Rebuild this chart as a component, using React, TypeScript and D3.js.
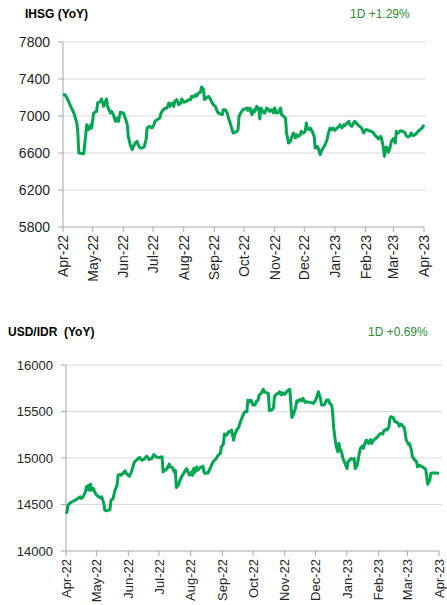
import * as d3 from "d3";

// days since 1 Apr 2022
const ihsgDays = [0, 2, 4, 7, 11, 14, 15, 16, 21, 23, 24, 26, 28, 29, 31, 34, 35, 38, 39, 41, 44, 45, 48, 49, 51, 53, 55, 56, 58, 61, 63, 65, 66, 68, 70, 71, 73, 75, 76, 78, 80, 82, 84, 85, 87, 90, 92, 93, 95, 98, 99, 102, 105, 107, 108, 110, 112, 113, 115, 117, 119, 120, 122, 125, 127, 129, 130, 132, 134, 135, 137, 139, 140, 142, 143, 145, 147, 149, 150, 152, 154, 156, 157, 161, 162, 164, 166, 167, 169, 171, 172, 176, 177, 178, 180, 182, 184, 186, 187, 189, 191, 193, 194, 196, 198, 199, 200, 203, 204, 206, 208, 209, 211, 213, 214, 216, 218, 220, 221, 223, 225, 226, 228, 230, 231, 233, 235, 236, 238, 240, 241, 243, 245, 246, 247, 249, 250, 252, 254, 255, 257, 258, 260, 262, 263, 265, 267, 268, 270, 272, 273, 275, 277, 279, 280, 282, 284, 285, 287, 289, 290, 292, 294, 295, 297, 299, 300, 302, 304, 306, 307, 309, 311, 312, 314, 316, 317, 319, 321, 322, 324, 325, 326, 327, 329, 331, 332, 334, 336, 337, 339, 341, 342, 344, 346, 347, 349, 351, 352, 354, 356, 357, 359, 361, 363, 364, 365];
const ihsgValues = [7231, 7231, 7195, 7122, 7032, 6924, 6816, 6600, 6593, 6798, 6906, 6852, 6906, 6870, 7032, 7050, 7140, 7159, 7184, 7104, 7184, 7104, 7032, 7050, 7014, 6942, 6978, 6942, 7040, 7032, 6978, 6906, 6780, 6690, 6636, 6665, 6708, 6726, 6690, 6654, 6654, 6665, 6744, 6870, 6888, 6870, 6906, 6942, 6960, 6978, 7032, 7076, 7086, 7140, 7104, 7140, 7104, 7159, 7177, 7122, 7140, 7184, 7148, 7159, 7177, 7177, 7213, 7205, 7231, 7213, 7249, 7256, 7314, 7292, 7177, 7195, 7213, 7184, 7159, 7122, 7104, 7050, 7032, 7014, 7068, 7068, 7032, 6989, 6924, 6852, 6816, 6834, 6852, 6996, 7040, 7068, 7076, 7086, 7061, 7086, 7014, 7068, 7050, 7104, 7068, 6968, 7086, 7032, 7032, 7086, 7068, 7050, 7068, 7032, 7086, 7032, 7040, 7086, 7014, 6996, 6978, 6816, 6708, 6726, 6762, 6816, 6762, 6798, 6780, 6798, 6834, 6816, 6834, 6924, 6870, 6852, 6870, 6834, 6780, 6654, 6672, 6654, 6582, 6636, 6654, 6690, 6744, 6798, 6870, 6852, 6870, 6845, 6870, 6888, 6906, 6870, 6906, 6895, 6924, 6942, 6906, 6888, 6931, 6942, 6917, 6895, 6888, 6870, 6816, 6852, 6852, 6845, 6834, 6834, 6816, 6780, 6780, 6751, 6780, 6762, 6654, 6564, 6643, 6665, 6607, 6672, 6726, 6755, 6708, 6834, 6816, 6841, 6834, 6834, 6816, 6787, 6773, 6787, 6816, 6787, 6798, 6809, 6834, 6852, 6870, 6888, 6906];

const usdDays = [0, 1, 2, 4, 7, 10, 14, 15, 17, 19, 20, 21, 22, 23, 24, 25, 27, 28, 30, 33, 35, 37, 38, 40, 43, 44, 46, 48, 50, 51, 53, 54, 56, 58, 59, 61, 62, 64, 66, 67, 69, 72, 74, 76, 79, 81, 84, 86, 88, 90, 92, 94, 95, 97, 99, 101, 102, 104, 106, 107, 108, 110, 111, 113, 115, 116, 118, 120, 121, 123, 124, 125, 126, 128, 129, 131, 133, 134, 135, 136, 137, 139, 141, 142, 144, 147, 149, 151, 152, 154, 155, 157, 159, 160, 162, 164, 165, 167, 169, 170, 172, 174, 175, 177, 178, 180, 181, 183, 185, 186, 188, 189, 191, 193, 194, 196, 198, 199, 201, 203, 204, 206, 208, 209, 211, 212, 214, 216, 218, 219, 221, 222, 224, 226, 227, 229, 231, 232, 234, 235, 239, 242, 244, 245, 247, 249, 250, 252, 253, 255, 257, 258, 260, 261, 262, 264, 265, 266, 267, 268, 270, 271, 273, 275, 276, 278, 279, 281, 282, 283, 285, 287, 288, 290, 291, 293, 294, 296, 298, 299, 301, 303, 305, 306, 308, 310, 311, 313, 314, 316, 317, 318, 320, 322, 323, 325, 326, 328, 330, 331, 333, 335, 336, 338, 339, 341, 343, 344, 346, 347, 349, 351, 352, 353, 354, 356, 357, 359, 362, 365];
const usdValues = [14402, 14420, 14492, 14517, 14535, 14553, 14582, 14564, 14589, 14636, 14690, 14661, 14708, 14654, 14719, 14654, 14672, 14636, 14600, 14575, 14582, 14510, 14438, 14431, 14445, 14546, 14564, 14654, 14708, 14815, 14826, 14815, 14840, 14862, 14833, 14815, 14804, 14851, 14923, 14959, 14977, 15006, 14977, 14984, 15020, 14984, 14995, 15038, 15013, 15006, 15006, 15013, 14851, 14869, 14887, 14934, 14905, 14898, 14851, 14869, 14682, 14708, 14744, 14797, 14833, 14851, 14887, 14833, 14815, 14851, 14815, 14887, 14844, 14905, 14869, 14894, 14905, 14912, 14851, 14833, 14840, 14840, 14887, 14912, 14959, 14995, 15031, 15049, 15121, 15149, 15257, 15246, 15282, 15280, 15300, 15192, 15246, 15300, 15329, 15365, 15426, 15480, 15497, 15497, 15623, 15605, 15623, 15569, 15569, 15605, 15623, 15677, 15695, 15738, 15713, 15702, 15695, 15508, 15515, 15533, 15659, 15688, 15695, 15713, 15677, 15702, 15684, 15713, 15731, 15738, 15436, 15451, 15515, 15616, 15605, 15630, 15616, 15641, 15598, 15605, 15598, 15587, 15616, 15641, 15713, 15641, 15569, 15569, 15576, 15623, 15623, 15587, 15569, 15480, 15318, 15149, 15103, 15067, 15156, 15103, 15049, 14995, 14941, 14887, 14959, 14984, 14995, 14984, 14995, 14887, 14923, 15049, 15103, 15128, 15103, 15174, 15192, 15156, 15199, 15156, 15192, 15210, 15228, 15246, 15264, 15257, 15293, 15307, 15300, 15336, 15426, 15444, 15436, 15390, 15390, 15372, 15343, 15365, 15336, 15329, 15192, 15149, 15156, 15085, 15013, 14984, 14959, 14905, 14923, 14912, 14905, 14887, 14876, 14797, 14718, 14762, 14833, 14840, 14840, 14833];

const ihsgTicks = [5800, 6200, 6600, 7000, 7400, 7800];
const usdTicks = [14000, 14500, 15000, 15500, 16000];

const START = new Date(2022, 3, 1);
const END = new Date(2023, 3, 1);
const monthTicks = d3.timeMonth.range(START, d3.timeDay.offset(END, 1));
const fmtMonth = d3.timeFormat("%b-%y");

const LINE = "#00a651";
const GRID = "#d9d9d9";
const AXIS = "#a6a6a6";
const TEXT = "#262626";
const FONT = "Liberation Sans, Arial, sans-serif";

interface PanelProps {
    title: string;
    change: string;
    titleX: number;
    titleY: number;
    changeX: number;
    days: number[];
    values: number[];
    ticks: number[];
    left: number;
    right: number;
    gridRight: number;
    top: number;
    bottom: number;
    yFont: number;
    xFont: number;
    labelRight: number;
}

function Panel(p: PanelProps) {
    const x = d3.scaleTime().domain([START, END]).range([p.left, p.right]);
    const y = d3.scaleLinear()
        .domain([p.ticks[0], p.ticks[p.ticks.length - 1]])
        .range([p.bottom, p.top]);

    const pts = p.days.map((d, i) => ({ date: d3.timeDay.offset(START, d), v: p.values[i] }));
    const line = d3.line<{ date: Date; v: number }>()
        .x(d => x(d.date))
        .y(d => y(d.v));

    return (
        <g>
            <text x={p.titleX} y={p.titleY} fontSize={12} fontWeight="bold" fill="#000" fontFamily={FONT}>{p.title}</text>
            <text x={p.changeX} y={p.titleY} fontSize={12} fill="#2e8b2e" fontFamily={FONT}>{p.change}</text>

            {/* gridlines + y labels */}
            {p.ticks.map(t => (
                <g key={t}>
                    {t !== p.ticks[0] && (
                        <line x1={p.left} x2={p.gridRight} y1={y(t)} y2={y(t)} stroke={GRID} strokeWidth={1} />
                    )}
                    <line x1={p.left - 5} x2={p.left} y1={y(t)} y2={y(t)} stroke={AXIS} strokeWidth={1} />
                    <text x={p.labelRight} y={y(t)} dy="0.35em" textAnchor="end" fontSize={p.yFont} fill={TEXT} fontFamily={FONT}>{t}</text>
                </g>
            ))}

            {/* axes */}
            <line x1={p.left} x2={p.left} y1={p.top} y2={p.bottom} stroke={AXIS} strokeWidth={1} />
            <line x1={p.left} x2={p.right} y1={p.bottom} y2={p.bottom} stroke={AXIS} strokeWidth={1} />
            {monthTicks.map(m => (
                <g key={m.getTime()} transform={`translate(${x(m)},${p.bottom})`}>
                    <line y1={0} y2={5} stroke={AXIS} strokeWidth={1} />
                    <text transform="translate(0,8) rotate(-90)" dy="0.35em" textAnchor="end" fontSize={p.xFont} fill={TEXT} fontFamily={FONT}>{fmtMonth(m)}</text>
                </g>
            ))}

            <path d={line(pts) || ""} fill="none" stroke={LINE} strokeWidth={3} strokeLinejoin="round" />
        </g>
    );
}

export default function App() {
    return (
        <svg width={447} height={605} style={{ position: "absolute", left: 0, top: 0, background: "#fff" }}>
            <Panel
                title="IHSG (YoY)" change="1D +1.29%" titleX={25} titleY={18} changeX={350}
                days={ihsgDays} values={ihsgValues} ticks={ihsgTicks}
                left={63} right={424} gridRight={426} top={42} bottom={227}
                yFont={14} xFont={14} labelRight={50}
            />
            <Panel
                title={"USD/IDR\u00a0\u00a0(YoY)"} change="1D +0.69%" titleX={8} titleY={336} changeX={368}
                days={usdDays} values={usdValues} ticks={usdTicks}
                left={66} right={439} gridRight={442} top={365} bottom={551}
                yFont={13} xFont={13} labelRight={53}
            />
        </svg>
    );
}
